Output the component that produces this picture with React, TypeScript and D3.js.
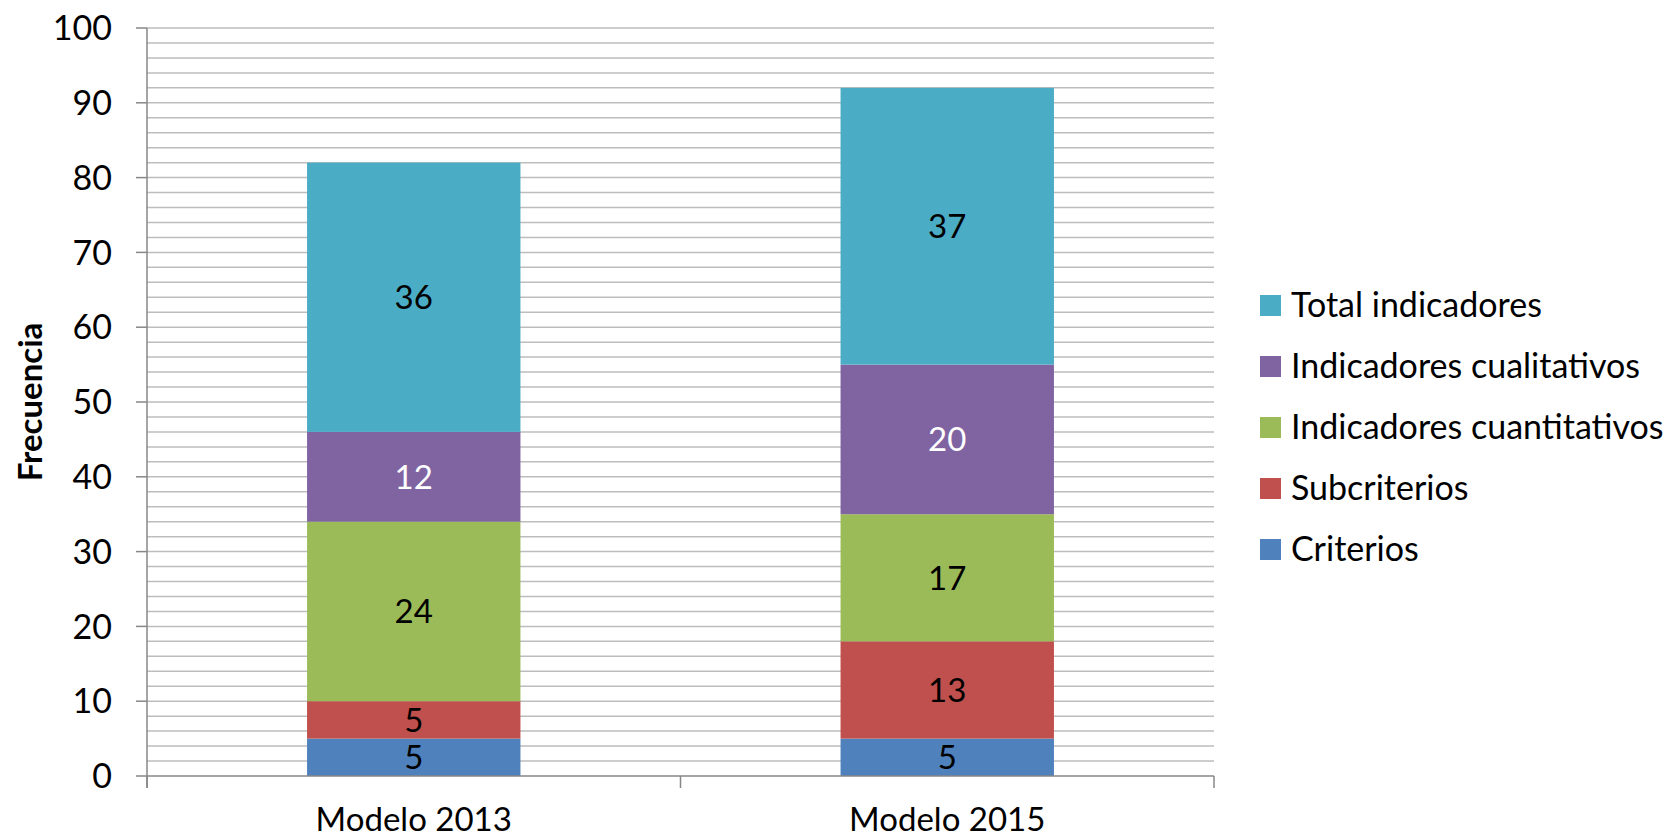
import { useEffect, useRef } from 'react'
import * as d3 from 'd3'

const categories = ['Modelo 2013', 'Modelo 2015']
const seriesNames = ['Criterios', 'Subcriterios', 'Indicadores cuantitativos', 'Indicadores cualitativos', 'Total indicadores']
const criterios = [5, 5]
const subcriterios = [5, 13]
const cuantitativos = [24, 17]
const cualitativos = [12, 20]
const totalIndicadores = [36, 37]
const yTicks = [0, 10, 20, 30, 40, 50, 60, 70, 80, 90, 100]
const colors = ['#4F81BD', '#C0504D', '#9BBB59', '#8064A2', '#4BACC6']
const labelColors = ['#000', '#000', '#000', '#fff', '#000']

export default function App() {
  const svgRef = useRef<SVGSVGElement | null>(null)

  useEffect(() => {
    if (!svgRef.current) return
    const width = 1673
    const height = 837
    const left = 147
    const right = 1214
    const top = 28
    const bottom = 776
    const font = 'Lato, "Open Sans", sans-serif'

    const svg = d3.select(svgRef.current)
    svg.selectAll('*').remove()
    svg.attr('width', width).attr('height', height)

    const values = [criterios, subcriterios, cuantitativos, cualitativos, totalIndicadores]
    const rows = categories.map((c, i) => {
      const r: any = { category: c }
      seriesNames.forEach((s, j) => (r[s] = values[j][i]))
      return r
    })
    const stacked = d3.stack().keys(seriesNames)(rows)

    const x = d3.scaleBand().domain(categories).range([left, right]).paddingInner(0.6).paddingOuter(0.3)
    const y = d3.scaleLinear().domain([0, 100]).range([bottom, top])

    // minor gridlines every 2
    svg.append('g')
      .selectAll('line')
      .data(d3.range(2, 101, 2))
      .enter()
      .append('line')
      .attr('x1', left)
      .attr('x2', right)
      .attr('y1', d => y(d))
      .attr('y2', d => y(d))
      .attr('stroke', '#bdbdbd')
      .attr('stroke-width', 1.5)

    // bars
    const layers = svg.append('g')
      .selectAll('g')
      .data(stacked)
      .enter()
      .append('g')
      .attr('fill', (d, i) => colors[i])

    layers.selectAll('rect')
      .data(d => d)
      .enter()
      .append('rect')
      .attr('x', (d: any) => x(d.data.category) as number)
      .attr('width', x.bandwidth())
      .attr('y', d => y(d[1]))
      .attr('height', d => y(d[0]) - y(d[1]))

    // data labels
    stacked.forEach((layer, i) => {
      svg.append('g')
        .selectAll('text')
        .data(layer)
        .enter()
        .append('text')
        .attr('x', (d: any) => (x(d.data.category) as number) + x.bandwidth() / 2)
        .attr('y', d => y((d[0] + d[1]) / 2))
        .attr('dy', '0.36em')
        .attr('text-anchor', 'middle')
        .style('font-family', font)
        .style('font-size', '33px')
        .style('fill', labelColors[i])
        .text(d => d[1] - d[0])
    })

    // y axis
    const axisColor = '#878787'
    svg.append('line')
      .attr('x1', left).attr('x2', left)
      .attr('y1', top).attr('y2', bottom + 12)
      .attr('stroke', axisColor).attr('stroke-width', 1.5)
    svg.append('g')
      .selectAll('line')
      .data(yTicks)
      .enter()
      .append('line')
      .attr('x1', left - 11)
      .attr('x2', left)
      .attr('y1', d => y(d))
      .attr('y2', d => y(d))
      .attr('stroke', axisColor)
      .attr('stroke-width', 1.5)
    svg.append('g')
      .selectAll('text')
      .data(yTicks)
      .enter()
      .append('text')
      .attr('x', left - 35)
      .attr('y', d => y(d))
      .attr('dy', '0.36em')
      .attr('text-anchor', 'end')
      .style('font-family', font)
      .style('font-size', '34px')
      .text(d => d)

    // x axis
    svg.append('line')
      .attr('x1', left).attr('x2', right)
      .attr('y1', bottom).attr('y2', bottom)
      .attr('stroke', axisColor).attr('stroke-width', 1.5)
    const step = x.step()
    svg.append('g')
      .selectAll('line')
      .data(d3.range(categories.length + 1))
      .enter()
      .append('line')
      .attr('x1', i => left + i * step)
      .attr('x2', i => left + i * step)
      .attr('y1', bottom)
      .attr('y2', bottom + 12)
      .attr('stroke', axisColor)
      .attr('stroke-width', 1.5)
    svg.append('g')
      .selectAll('text')
      .data(categories)
      .enter()
      .append('text')
      .attr('x', d => (x(d) as number) + x.bandwidth() / 2)
      .attr('y', 831)
      .attr('text-anchor', 'middle')
      .style('font-family', font)
      .style('font-size', '33px')
      .text(d => d)

    // y title
    svg.append('text')
      .attr('transform', `translate(42, ${(top + bottom) / 2}) rotate(-90)`)
      .attr('text-anchor', 'middle')
      .style('font-family', font)
      .style('font-size', '33px')
      .style('font-weight', 'bold')
      .text('Frecuencia')

    // legend (reverse order)
    const legendItems = seriesNames.map((s, i) => ({ name: s, color: colors[i] })).reverse()
    const legend = svg.append('g').attr('transform', 'translate(1260, 305)')
    legendItems.forEach((d, i) => {
      const item = legend.append('g').attr('transform', `translate(0, ${i * 61})`)
      item.append('rect')
        .attr('x', 0)
        .attr('y', -10)
        .attr('width', 21)
        .attr('height', 21)
        .attr('fill', d.color)
      item.append('text')
        .attr('x', 31)
        .attr('y', 0)
        .attr('dy', '0.36em')
        .style('font-family', font)
        .style('font-size', '34px')
        .text(d.name)
    })
  }, [])

  return (
    <div style={{ position: 'absolute', left: 0, top: 0 }}>
      <svg ref={svgRef} style={{ display: 'block', background: '#fff' }}></svg>
    </div>
  )
}
